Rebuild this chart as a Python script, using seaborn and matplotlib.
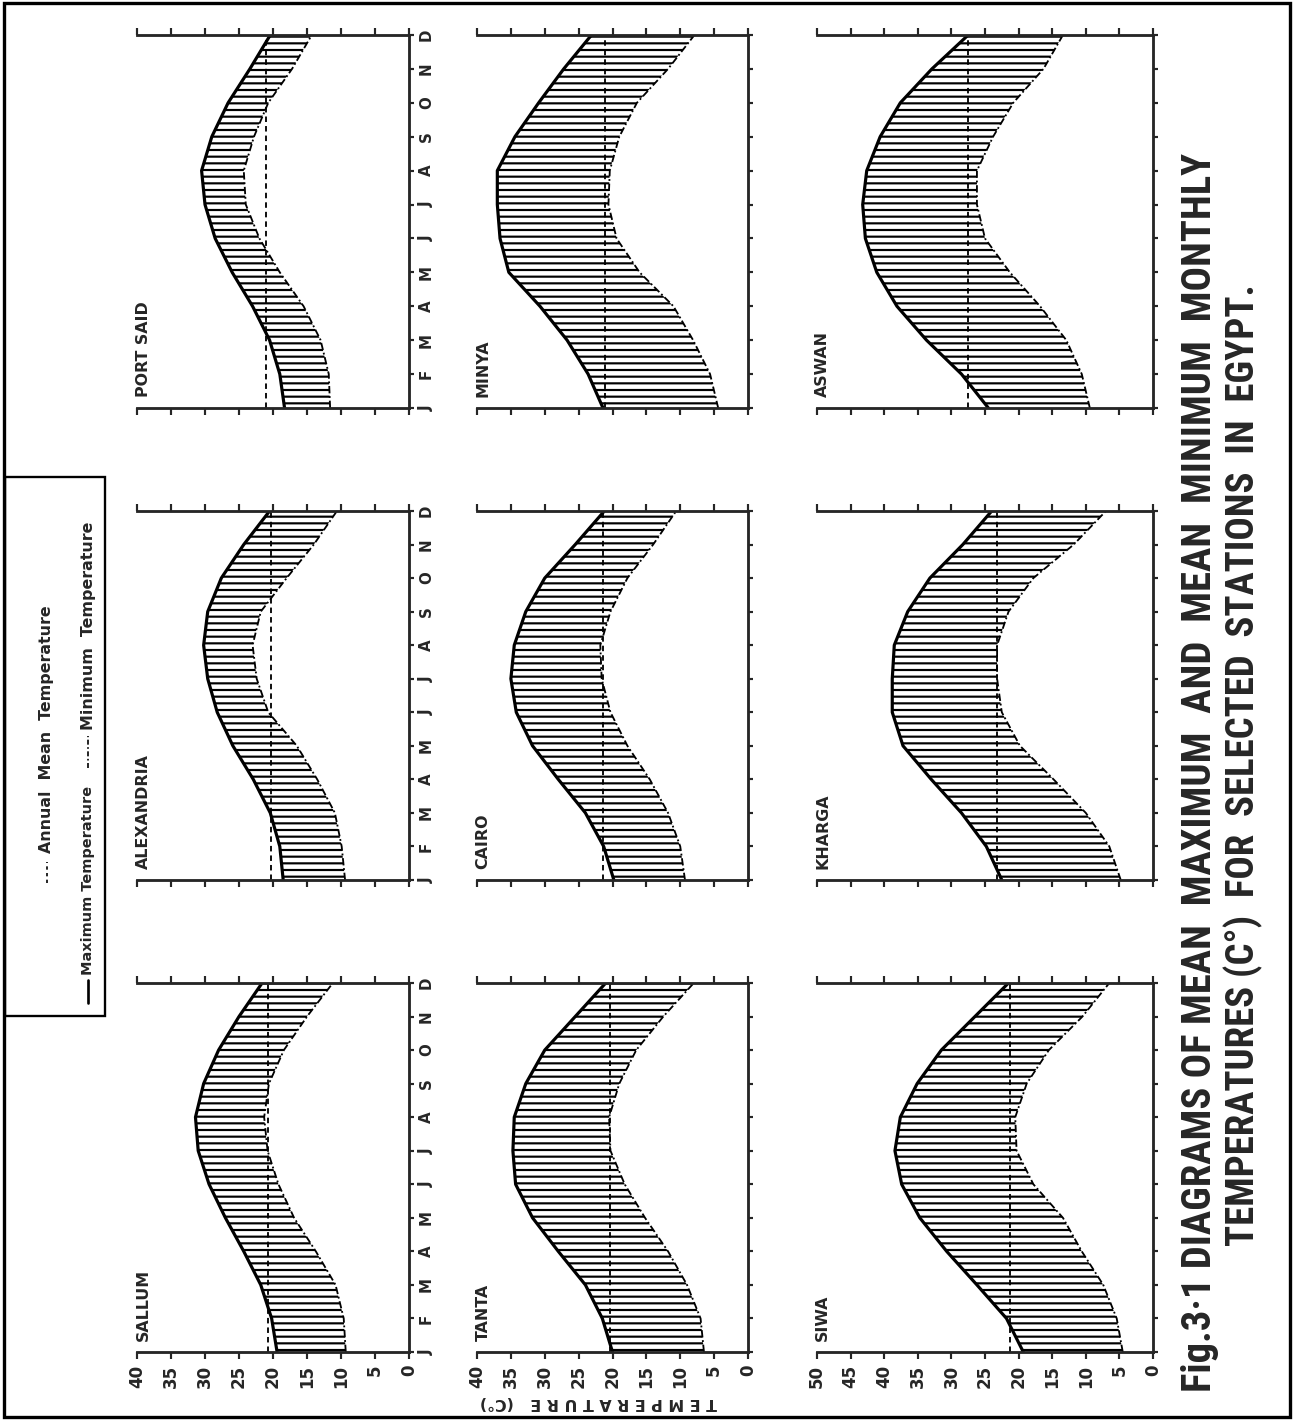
import matplotlib
matplotlib.use('Agg')
import matplotlib.pyplot as plt
import seaborn as sns
import pandas as pd
import numpy as np
from matplotlib import font_manager
from matplotlib.lines import Line2D
from matplotlib.patches import Rectangle

# ---- data, months J..D ----
months = ['J', 'F', 'M', 'A', 'M', 'J', 'J', 'A', 'S', 'O', 'N', 'D']

port_said_max = [18.3, 19.0, 20.5, 23.0, 26.0, 28.5, 30.0, 30.5, 29.0, 26.6, 23.4, 20.4]
port_said_min = [11.6, 11.8, 13.0, 15.5, 19.0, 22.0, 24.0, 24.3, 22.8, 20.7, 17.2, 14.3]
port_said_mean = 21.0

alexandria_max = [18.5, 19.0, 20.4, 22.9, 25.9, 28.2, 29.6, 30.2, 29.6, 27.6, 24.3, 20.5]
alexandria_min = [9.4, 9.9, 10.9, 13.5, 16.5, 20.7, 22.4, 23.0, 21.8, 18.0, 14.0, 10.6]
alexandria_mean = 20.3

sallum_max = [19.4, 20.2, 21.8, 24.3, 27.0, 29.4, 31.0, 31.4, 30.2, 28.0, 25.0, 21.6]
sallum_min = [9.3, 9.6, 10.8, 13.7, 16.9, 19.2, 20.8, 21.3, 20.6, 18.4, 15.0, 11.2]
sallum_mean = 20.8

minya_max = [21.4, 23.6, 26.7, 30.7, 35.3, 36.6, 37.0, 37.0, 34.4, 30.9, 27.2, 23.1]
minya_min = [4.4, 5.6, 8.1, 11.0, 16.0, 19.4, 20.6, 20.4, 19.0, 16.4, 11.8, 7.9]
minya_mean = 21.1

cairo_max = [19.8, 21.3, 24.0, 28.0, 31.8, 34.2, 35.0, 34.5, 32.8, 30.0, 25.5, 21.2]
cairo_min = [9.3, 10.0, 11.8, 14.5, 17.8, 20.3, 21.6, 21.8, 20.3, 17.8, 14.0, 10.6]
cairo_mean = 21.4

tanta_max = [20.0, 21.5, 24.0, 28.0, 31.8, 34.3, 34.7, 34.5, 32.8, 30.0, 25.5, 21.0]
tanta_min = [6.5, 7.0, 9.0, 11.8, 15.2, 18.2, 20.3, 20.5, 19.0, 16.5, 12.5, 8.0]
tanta_mean = 20.3

aswan_max = [24.5, 28.5, 33.7, 38.1, 41.1, 42.8, 43.2, 42.6, 40.6, 37.6, 32.9, 27.5]
aswan_min = [9.4, 10.6, 12.9, 16.8, 21.3, 25.0, 26.2, 26.2, 23.8, 20.8, 16.3, 13.4]
aswan_mean = 27.5

kharga_max = [22.5, 24.8, 28.5, 33.0, 37.2, 38.8, 38.8, 38.5, 36.5, 33.2, 28.3, 24.0]
kharga_min = [4.8, 6.5, 10.0, 14.8, 19.8, 22.5, 23.2, 23.2, 21.5, 17.8, 11.8, 7.0]
kharga_mean = 23.2

siwa_max = [19.3, 21.8, 26.2, 30.7, 34.7, 37.4, 38.4, 37.6, 35.1, 31.5, 26.5, 21.5]
siwa_min = [4.5, 5.4, 7.4, 10.6, 13.4, 17.8, 20.3, 20.5, 18.8, 15.5, 10.5, 6.5]
siwa_mean = 21.3

# grid as it appears on the (rotated) page: rows top->bottom, cols left->right
grid = [
    [('PORT SAID', port_said_max, port_said_min, port_said_mean, 40),
     ('MINYA', minya_max, minya_min, minya_mean, 40),
     ('ASWAN', aswan_max, aswan_min, aswan_mean, 50)],
    [('ALEXANDRIA', alexandria_max, alexandria_min, alexandria_mean, 40),
     ('CAIRO', cairo_max, cairo_min, cairo_mean, 40),
     ('KHARGA', kharga_max, kharga_min, kharga_mean, 50)],
    [('SALLUM', sallum_max, sallum_min, sallum_mean, 40),
     ('TANTA', tanta_max, tanta_min, tanta_mean, 40),
     ('SIWA', siwa_max, siwa_min, siwa_mean, 50)],
]

# ---- style ----
sns.set_style('ticks')
names = {f.name for f in font_manager.fontManager.ttflist}
narrow = 'DejaVu Sans'
for cand in ('Liberation Sans Narrow', 'DejaVu Sans Condensed', 'Roboto Condensed',
             'Open Sans Condensed'):
    if cand in names:
        narrow = cand
        break
plt.rcParams['font.family'] = ['DejaVu Sans']
plt.rcParams['hatch.linewidth'] = 1.3
plt.rcParams['hatch.color'] = 'black'

W, H = 1298, 1420
DPI = 120
fig = plt.figure(figsize=(W / DPI, H / DPI), dpi=DPI)
fig.patch.set_facecolor('white')


def box(x0, x1, y0, y1):
    return [x0 / W, 1 - y1 / H, (x1 - x0) / W, (y1 - y0) / H]


def fx(x, y):
    return (x / W, 1 - y / H)


cols = [(137, 409), (477, 748), (817, 1153)]
rows = [(35, 408), (511, 880), (983, 1352)]

for r, row in enumerate(grid):
    for c, (name, tmax, tmin, tmean, tlim) in enumerate(row):
        ax = fig.add_axes(box(cols[c][0], cols[c][1], rows[r][0], rows[r][1]))
        df = pd.DataFrame({'m': np.arange(12), 'tmax': tmax, 'tmin': tmin})

        ax.fill_betweenx(df['m'], df['tmin'], df['tmax'], facecolor='none',
                         edgecolor='black', hatch='---', linewidth=0)
        sns.lineplot(data=df, x='tmax', y='m', orient='y', sort=False, estimator=None,
                     color='black', linewidth=1.9, ax=ax)
        sns.lineplot(data=df, x='tmin', y='m', orient='y', sort=False, estimator=None,
                     color='black', linewidth=1.1, linestyle=(0, (4, 1.5, 1, 1.5)), ax=ax)
        ax.axvline(tmean, color='black', linewidth=1.1, linestyle=(0, (3, 2.2)))

        ax.set_xlim(tlim, 0)
        ax.set_ylim(0, 11)
        ax.set_xlabel('')
        ax.set_ylabel('')
        ax.set_xticks(np.arange(0, tlim + 1, 5))
        ax.set_yticks(range(12))
        ax.yaxis.tick_right()
        ax.tick_params(axis='x', top=True, bottom=True, direction='out',
                       length=4, width=1.3, pad=3.5, labeltop=False)
        ax.tick_params(axis='y', right=True, left=False, direction='out',
                       length=3, width=1.3, pad=3)
        ax.spines['left'].set_visible(False)
        for s in ('top', 'bottom', 'right'):
            ax.spines[s].set_linewidth(1.7)

        if c == 0:
            ax.set_yticklabels(months, rotation=90, fontsize=9, fontweight='bold', va='center')
        else:
            ax.set_yticklabels([])
        if r == 2:
            ax.set_xticklabels([str(v) for v in np.arange(0, tlim + 1, 5)], rotation=90,
                               fontsize=10, fontweight='bold')
        else:
            ax.set_xticklabels([])

        ax.text(-0.005, 0.03, name, transform=ax.transAxes, rotation=90,
                rotation_mode='anchor', ha='left', va='top', fontsize=9.5,
                fontweight='bold')

# axis label, upside down as on the page
fig.text(*fx(598, 1403), 'T E M P E R A T U R E   (C°)', rotation=180, ha='center',
         va='center', fontsize=9.5, fontweight='bold')

# legend box
fig.add_artist(Rectangle(fx(5, 1016), 100 / W, (1016 - 477) / H, transform=fig.transFigure,
                         facecolor='none', edgecolor='black', linewidth=1.4))
fig.add_artist(Line2D([47 / W, 47 / W], [1 - 883 / H, 1 - 862 / H], color='black',
                      linewidth=1.0, linestyle=(0, (2, 2)), transform=fig.transFigure))
fig.text(*fx(47, 853), 'Annual  Mean  Temperature', rotation=90, rotation_mode='anchor',
         ha='left', va='center', fontsize=9.5, fontweight='bold')
fig.add_artist(Line2D([88 / W, 88 / W], [1 - 1003 / H, 1 - 980 / H], color='black',
                      linewidth=1.6, transform=fig.transFigure))
fig.text(*fx(88, 975), 'Maximum Temperature', rotation=90, rotation_mode='anchor',
         ha='left', va='center', fontsize=8.7, fontweight='bold')
fig.add_artist(Line2D([88 / W, 88 / W], [1 - 768 / H, 1 - 736 / H], color='black',
                      linewidth=1.0, linestyle=(0, (3, 1.5, 1, 1.5)),
                      transform=fig.transFigure))
fig.text(*fx(88, 730), 'Minimum  Temperature', rotation=90, rotation_mode='anchor',
         ha='left', va='center', fontsize=9.5, fontweight='bold')

# page frame
fig.add_artist(Rectangle(fx(4, 1417), 1286 / W, 1414 / H, transform=fig.transFigure,
                         facecolor='none', edgecolor='black', linewidth=2.0))

# caption, fitted to the lengths seen on the page
t1 = fig.text(*fx(1200, 772), 'Fig.3·1 DIAGRAMS OF MEAN  MAXIMUM  AND  MEAN  MINIMUM  MONTHLY',
              rotation=90, ha='center', va='center', fontsize=22, fontweight='bold',
              fontstretch='condensed', family=[narrow, 'DejaVu Sans'])
t2 = fig.text(*fx(1243, 765), 'TEMPERATURES (C°)  FOR  SELECTED  STATIONS  IN  EGYPT.',
              rotation=90, ha='center', va='center', fontsize=22, fontweight='bold',
              fontstretch='condensed', family=[narrow, 'DejaVu Sans'])
fig.canvas.draw()
rend = fig.canvas.get_renderer()
for t, target in ((t1, 1235), (t2, 960)):
    h = t.get_window_extent(rend).height
    t.set_fontsize(t.get_fontsize() * target / h)

fig.savefig('out.png', dpi=DPI)
